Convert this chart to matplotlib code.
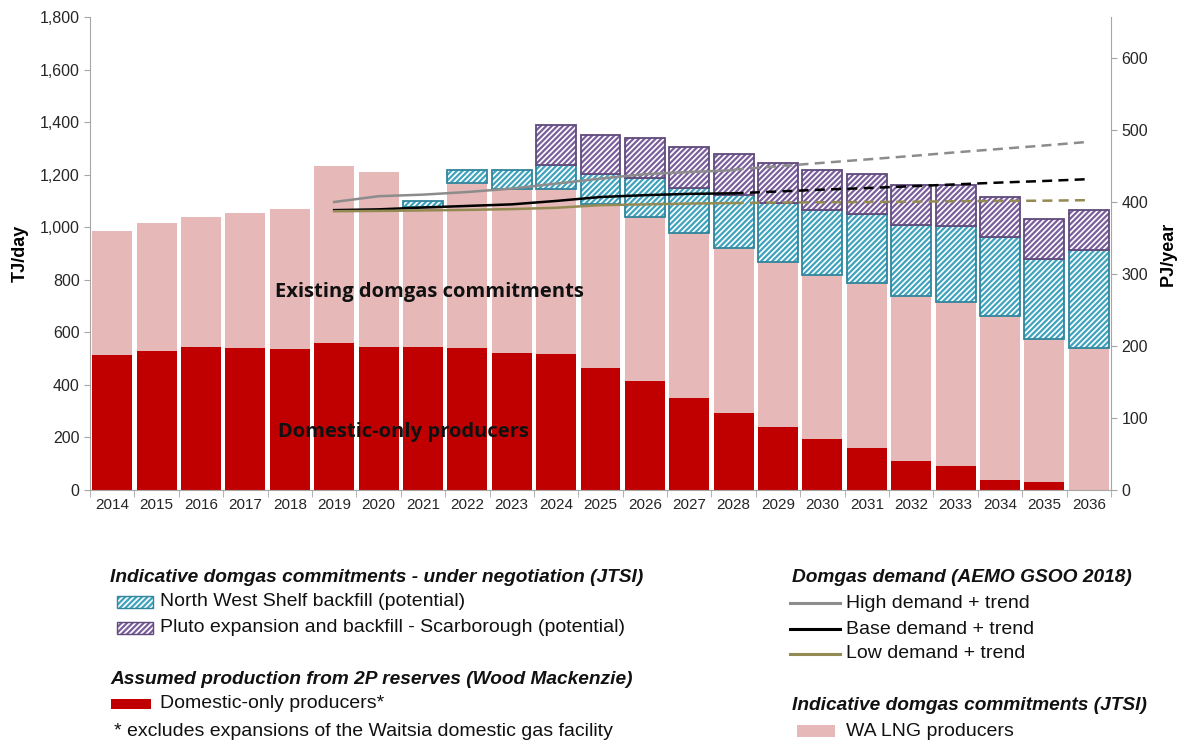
import numpy as np
import matplotlib
matplotlib.use("Agg")
import matplotlib.pyplot as plt
from matplotlib.patches import Rectangle
from matplotlib.lines import Line2D
from matplotlib.ticker import FuncFormatter, FixedLocator

# ============================================
# data (TJ/day)
# ============================================
years = list(range(2014, 2037))
domestic = [515, 530, 543, 539, 536, 558, 545, 545, 539, 520, 517, 463,
            414, 351, 294, 241, 193, 161, 110, 93, 38, 29, 0]
lng = [471, 486, 494, 515, 532, 674, 665, 533, 630, 627, 630, 624,
       625, 627, 627, 625, 627, 627, 628, 623, 624, 544, 539]
nws = [0, 0, 0, 0, 0, 0, 0, 20, 48, 70, 89, 115,
       150, 173, 201, 228, 245, 261, 270, 289, 301, 305, 374]
pluto = [0, 0, 0, 0, 0, 0, 0, 0, 0, 0, 152, 150,
         151, 154, 156, 152, 152, 155, 154, 155, 152, 155, 154]

gsoo_years = list(range(2019, 2029))
high = [1096, 1118, 1124, 1134, 1147, 1166, 1185, 1202, 1210, 1217]
base = [1065, 1068, 1075, 1081, 1087, 1100, 1115, 1122, 1127, 1129]
low = [1061, 1062, 1064, 1066, 1069, 1074, 1084, 1087, 1090, 1092]

trend_years = list(range(2028, 2037))
high_trend = [1219, 1232, 1245, 1258, 1271, 1285, 1298, 1311, 1325]
base_trend = [1129, 1136, 1143, 1149, 1156, 1163, 1170, 1176, 1183]
low_trend = [1092, 1094, 1095, 1096, 1097, 1099, 1100, 1101, 1103]

# colours
RED = "#C00000"
PINK = "#E6B8B7"
NWS_EDGE = "#31859C"
NWS_HATCH = "#3FA3BE"
PLUTO_EDGE = "#604A7B"
PLUTO_HATCH = "#7A5E9C"
GREY = "#8C8C8C"
OLIVE = "#948A54"
SPINE = "#A6A6A6"
HATCH = "//////"

plt.rcParams["font.family"] = ["Liberation Sans", "DejaVu Sans"]
plt.rcParams["hatch.linewidth"] = 1.6

fig = plt.figure(figsize=(11.85, 7.44), dpi=100)
ax = fig.add_axes([90 / 1185, 1 - 490 / 744, 1021 / 1185, 473 / 744])

x = np.arange(len(years))
dom = np.array(domestic)
lng_a = np.array(lng)
nws_a = np.array(nws)
plu_a = np.array(pluto)
w = 0.9


def hatched_bar(xs, h, bottom, hatch_col, edge_col):
    # hatch drawn in one colour, border in a darker one
    ax.bar(xs, h, w, bottom=bottom, facecolor="white", edgecolor=hatch_col,
           hatch=HATCH, linewidth=0, zorder=3)
    ax.bar(xs, h, w, bottom=bottom, facecolor="none", edgecolor=edge_col,
           linewidth=1.3, zorder=3)


ax.bar(x, dom, w, color=RED, zorder=2)
ax.bar(x, lng_a, w, bottom=dom, color=PINK, zorder=2)

m = nws_a > 0
hatched_bar(x[m], nws_a[m], (dom + lng_a)[m], NWS_HATCH, NWS_EDGE)
m = plu_a > 0
hatched_bar(x[m], plu_a[m], (dom + lng_a + nws_a)[m], PLUTO_HATCH, PLUTO_EDGE)

# demand lines
gx = [years.index(y) for y in gsoo_years]
tx = [years.index(y) for y in trend_years]
ax.plot(gx, high, color=GREY, lw=1.8, zorder=4)
ax.plot(gx, base, color="black", lw=1.8, zorder=4)
ax.plot(gx, low, color=OLIVE, lw=1.8, zorder=4)
ax.plot(tx, high_trend, color=GREY, lw=1.8, ls=(0, (4, 2.5)), zorder=4)
ax.plot(tx, base_trend, color="black", lw=1.8, ls=(0, (4, 2.5)), zorder=4)
ax.plot(tx, low_trend, color=OLIVE, lw=1.8, ls=(0, (4, 2.5)), zorder=4)

# axes styling
ax.set_xlim(-0.5, len(years) - 0.5)
ax.set_ylim(0, 1800)
ax.set_yticks(range(0, 1801, 200))
ax.yaxis.set_major_formatter(FuncFormatter(lambda v, p: f"{int(v):,}"))
ax.set_xticks(x)
ax.set_xticklabels(years)
ax.xaxis.set_minor_locator(FixedLocator(np.arange(-0.5, len(years), 1)))
ax.tick_params(axis="x", which="major", length=0, pad=6, labelsize=11, colors="#262626")
ax.tick_params(axis="x", which="minor", length=5, color=SPINE)
ax.tick_params(axis="y", length=4, color=SPINE, labelsize=11.5, colors="#262626")
for s in ["top", "right"]:
    ax.spines[s].set_visible(False)
for s in ["left", "bottom"]:
    ax.spines[s].set_color(SPINE)
ax.set_ylabel("TJ/day", fontsize=13, fontweight="bold", labelpad=8)

ax2 = ax.twinx()
ax2.set_ylim(0, 1800 * 0.365)
ax2.set_yticks(range(0, 601, 100))
ax2.tick_params(axis="y", length=4, color=SPINE, labelsize=11.5, colors="#262626")
for s in ["top", "left", "bottom"]:
    ax2.spines[s].set_visible(False)
ax2.spines["right"].set_color(SPINE)
ax2.set_ylabel("PJ/year", fontsize=13, fontweight="bold", labelpad=8)

# in-chart labels
ax.text(0.181, 0.419, "Existing domgas commitments", transform=ax.transAxes,
        fontsize=14.5, fontweight="bold", family=["Open Sans", "DejaVu Sans"],
        va="center", ha="left", color="#111111", zorder=5)
ax.text(0.184, 0.123, "Domestic-only producers", transform=ax.transAxes,
        fontsize=14.5, fontweight="bold", family=["Open Sans", "DejaVu Sans"],
        va="center", ha="left", color="#111111", zorder=5)


# ============================================
# legend drawn by hand in figure pixels
# ============================================
def fx(px):
    return px / 1185


def fy(py):
    return 1 - py / 744


def head(px, py, s):
    fig.text(fx(px), fy(py), s, fontsize=13.8, fontweight="bold", style="italic",
             va="center", ha="left", color="#111111")


def item(px, py, s):
    fig.text(fx(px), fy(py), s, fontsize=14, va="center", ha="left", color="#111111")


def patch(px, py, wpx, hpx, **kw):
    fig.add_artist(Rectangle((fx(px), fy(py + hpx / 2)), wpx / 1185, hpx / 744,
                             transform=fig.transFigure, **kw))


def hatched_patch(px, py, hatch_col, edge_col):
    patch(px, py, 36, 12, facecolor="white", edgecolor=hatch_col, hatch=HATCH, lw=0)
    patch(px, py, 36, 12, facecolor="none", edgecolor=edge_col, lw=1)


def line(px, py, color):
    fig.add_artist(Line2D([fx(px), fx(px + 50)], [fy(py), fy(py)], color=color,
                          lw=2.2, transform=fig.transFigure))


head(110, 577, "Indicative domgas commitments - under negotiation (JTSI)")
hatched_patch(117, 602, NWS_HATCH, NWS_EDGE)
item(160, 602, "North West Shelf backfill (potential)")
hatched_patch(117, 628, PLUTO_HATCH, PLUTO_EDGE)
item(160, 628, "Pluto expansion and backfill - Scarborough (potential)")

head(110, 679, "Assumed production from 2P reserves (Wood Mackenzie)")
patch(111, 704, 40, 10, facecolor=RED, edgecolor="none")
item(160, 704, "Domestic-only producers*")
item(114, 731, "* excludes expansions of the Waitsia domestic gas facility")

head(792, 577, "Domgas demand (AEMO GSOO 2018)")
line(790, 603, GREY)
item(846, 603, "High demand + trend")
line(790, 629, "black")
item(846, 629, "Base demand + trend")
line(790, 654, OLIVE)
item(846, 654, "Low demand + trend")

head(792, 705, "Indicative domgas commitments (JTSI)")
patch(797, 731, 38, 12, facecolor=PINK, edgecolor="none")
item(846, 731, "WA LNG producers")

fig.savefig("out.png", dpi=100)
